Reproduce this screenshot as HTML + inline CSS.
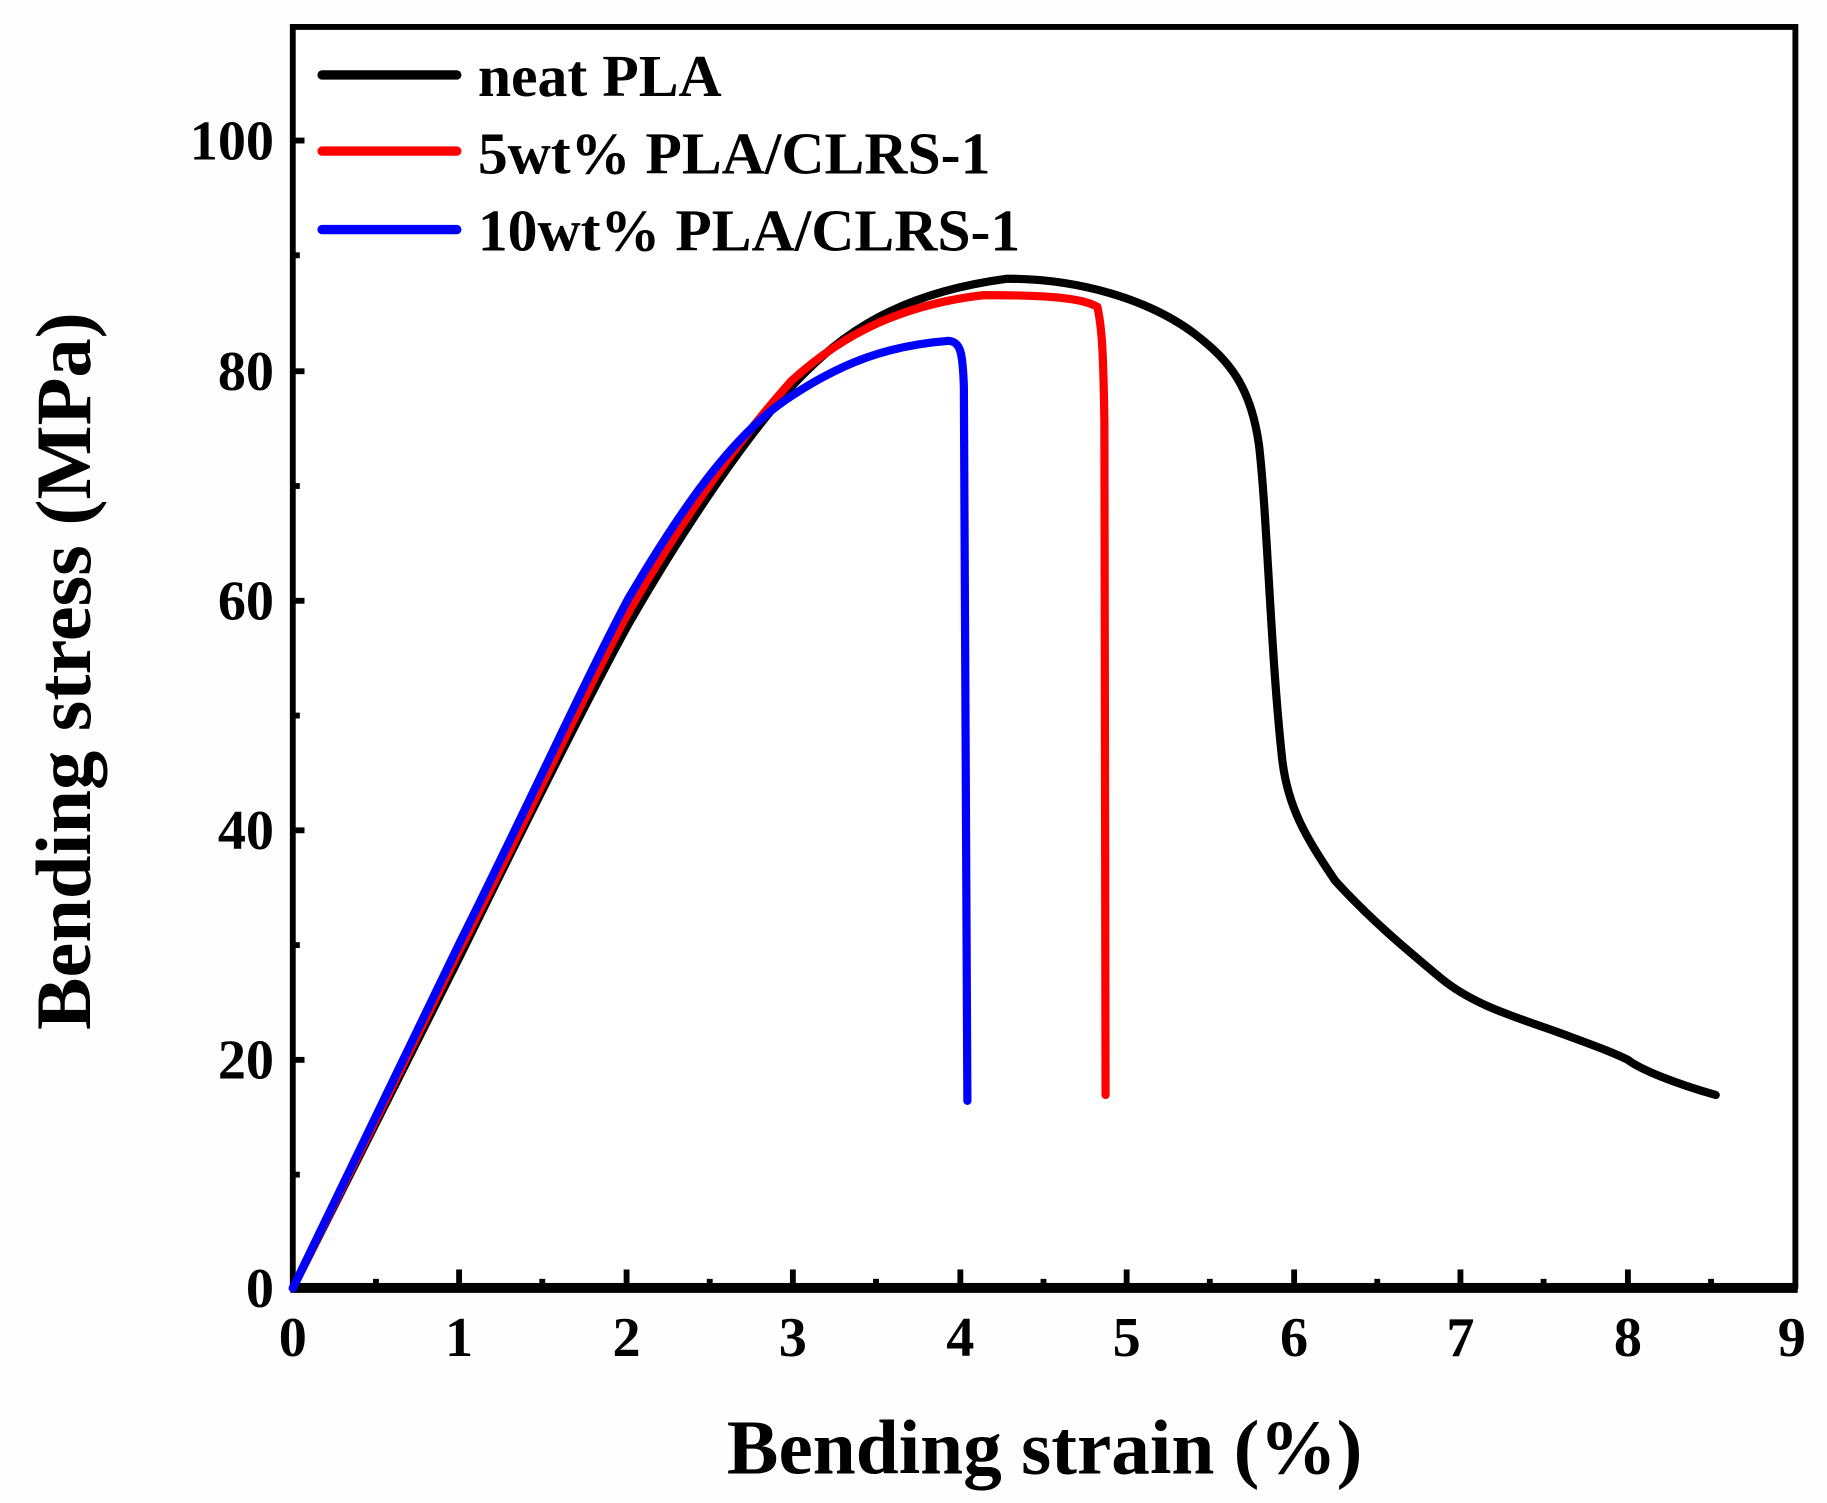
<!DOCTYPE html>
<html><head><meta charset="utf-8"><style>
html,body{margin:0;padding:0;background:#fff;}
svg{display:block;}
text{font-family:"Liberation Serif",serif;font-weight:bold;fill:#000;}
</style></head><body>
<svg width="1827" height="1503" viewBox="0 0 1560 1283.4" preserveAspectRatio="none" xmlns="http://www.w3.org/2000/svg">
<rect width="1560" height="1284" fill="#fefefe"/>
<rect x="250" y="23" width="1283" height="1075" fill="#fff" stroke="#000" stroke-width="5"/>
<line x1="248" y1="1100" x2="1535" y2="1100" stroke="#000" stroke-width="8"/>
<g stroke="#000" stroke-width="5">
<line x1="392" y1="1100" x2="392" y2="1084"/><line x1="535" y1="1100" x2="535" y2="1084"/><line x1="677" y1="1100" x2="677" y2="1084"/><line x1="820" y1="1100" x2="820" y2="1084"/><line x1="962" y1="1100" x2="962" y2="1084"/><line x1="1105" y1="1100" x2="1105" y2="1084"/><line x1="1247" y1="1100" x2="1247" y2="1084"/><line x1="1390" y1="1100" x2="1390" y2="1084"/>
<line x1="321" y1="1100" x2="321" y2="1092"/><line x1="463" y1="1100" x2="463" y2="1092"/><line x1="606" y1="1100" x2="606" y2="1092"/><line x1="748" y1="1100" x2="748" y2="1092"/><line x1="891" y1="1100" x2="891" y2="1092"/><line x1="1033" y1="1100" x2="1033" y2="1092"/><line x1="1176" y1="1100" x2="1176" y2="1092"/><line x1="1318" y1="1100" x2="1318" y2="1092"/><line x1="1461" y1="1100" x2="1461" y2="1092"/>
<line x1="250" y1="120" x2="260" y2="120"/><line x1="250" y1="317" x2="260" y2="317"/><line x1="250" y1="513" x2="260" y2="513"/><line x1="250" y1="709" x2="260" y2="709"/><line x1="250" y1="905" x2="260" y2="905"/>
<line x1="250" y1="218" x2="256" y2="218"/><line x1="250" y1="415" x2="256" y2="415"/><line x1="250" y1="611" x2="256" y2="611"/><line x1="250" y1="807" x2="256" y2="807"/><line x1="250" y1="1003" x2="256" y2="1003"/>
</g>
<g font-size="48" text-anchor="middle">
<text x="250" y="1158">0</text><text x="392" y="1158">1</text><text x="535" y="1158">2</text><text x="677" y="1158">3</text><text x="820" y="1158">4</text><text x="962" y="1158">5</text><text x="1105" y="1158">6</text><text x="1247" y="1158">7</text><text x="1390" y="1158">8</text><text x="1530" y="1158">9</text>
</g>
<g font-size="48" text-anchor="end">
<text x="234" y="136">100</text><text x="234" y="333">80</text><text x="234" y="529">60</text><text x="234" y="725">40</text><text x="234" y="921">20</text><text x="234" y="1116">0</text>
</g>
<text x="892" y="1258" font-size="66" text-anchor="middle">Bending strain (%)</text>
<text transform="translate(77,573) rotate(-90)" font-size="67" text-anchor="middle">Bending stress (MPa)</text>
<g stroke-width="8" stroke-linecap="round">
<line x1="275" y1="64" x2="390" y2="64" stroke="#000"/>
<line x1="275" y1="129" x2="390" y2="129" stroke="#f00"/>
<line x1="275" y1="196" x2="390" y2="196" stroke="#00f"/>
</g>
<g font-size="51">
<text x="408" y="82">neat PLA</text>
<text x="408" y="148">5wt% PLA/CLRS-1</text>
<text x="408" y="214">10wt% PLA/CLRS-1</text>
</g>
<g fill="none" stroke-width="7" stroke-linejoin="round" stroke-linecap="round">
<path stroke="#000" d="M250,1100 L392,818 C450,700 500,600 536,534 C590,440 640,370 676,330 C720,282 770,250 860,238 C920,238 980,255 1020,285 C1050,308 1068,330 1075,380 C1082,440 1085,560 1095,650 C1100,690 1115,715 1140,752 C1170,785 1200,810 1230,835 C1260,860 1300,870 1340,885 C1370,896 1380,900 1390,905 C1400,913 1430,925 1465,935"/>
<path stroke="#f00" d="M250,1100 L392,812 C450,700 500,590 536,524 C590,430 640,365 676,325 C720,285 770,260 840,252 C900,252 925,255 937,262 C941,280 942,300 943,360 L944,935"/>
<path stroke="#00f" d="M250,1100 L392,806 C450,690 500,580 536,512 C590,420 630,370 670,342 C720,308 760,295 810,291 C820,292 822,300 823,330 L826,940"/>
</g>
</svg>
</body></html>
